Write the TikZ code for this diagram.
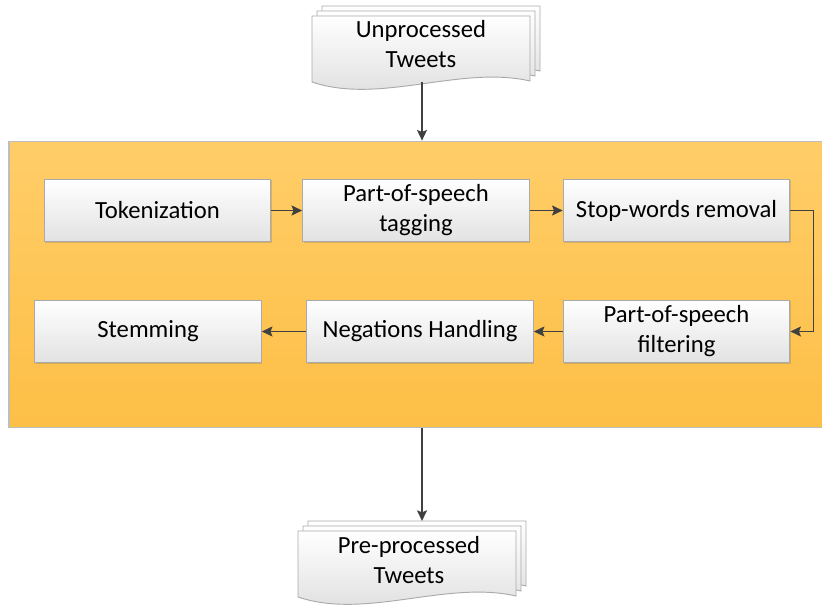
\documentclass[tikz,border=0pt]{standalone}
\usepackage{fontspec}
\setmainfont{Carlito}
\usetikzlibrary{arrows.meta,shadows}

\definecolor{panelTop}{RGB}{255,205,104}
\definecolor{panelBot}{RGB}{253,191,70}
\definecolor{panelEdge}{RGB}{190,190,190}
\definecolor{boxEdge}{RGB}{170,170,170}
\definecolor{boxBot}{RGB}{226,226,226}
\definecolor{lineDark}{RGB}{64,64,64}
\definecolor{pageBot}{RGB}{220,220,220}

\tikzset{
  x=0.75pt, y=-0.75pt,
  panel/.style={draw=panelEdge, line width=0.8pt, top color=panelTop, bottom color=panelBot,
    minimum width=615pt, minimum height=215pt, inner sep=0pt},
  stepbox/.style={draw=boxEdge, line width=0.7pt, top color=white, bottom color=boxBot,
    minimum width=170pt, minimum height=47pt, inner sep=2pt, align=center,
    font=\fontsize{18.5}{22.5}\selectfont,
    drop shadow={shadow xshift=0.8pt, shadow yshift=-0.8pt, opacity=0.25, fill=black!60}},
  pagesheet/.style={draw=boxEdge, line width=0.7pt, top color=white, bottom color=pageBot},
  doctext/.style={align=center, inner sep=0pt, font=\fontsize{18.5}{22.5}\selectfont},
  conn/.style={draw=lineDark, line width=1.1pt,
    -{Stealth[length=8pt,width=7.5pt,inset=1.5pt]}}
}

% one sheet of a stacked document, drawn with its top-left corner at the origin
\newcommand{\docsheet}{%
  \path[pagesheet] (0,0) -- (218,0) -- (218,65)
    .. controls (148,49) and (68,89) .. (0,66) -- cycle;}
% three offset sheets with the front one at (#1,#2)
\newcommand{\docstack}[2]{%
  \begin{scope}[shift={(#1+10,#2-10)}]\docsheet\end{scope}
  \begin{scope}[shift={(#1+5,#2-5)}]\docsheet\end{scope}
  \begin{scope}[shift={(#1,#2)}]\docsheet\end{scope}}

\begin{document}
\begin{tikzpicture}
\useasboundingbox (0,0) rectangle (822,606);
\clip (0,0) rectangle (822,606);

% source document stack
\docstack{312}{16}
\node[doctext] (src) at (421,44) {Unprocessed\\Tweets};
\coordinate (srcb) at (422,82);

% processing panel (runs off the right edge)
\node[panel] (panel) at (419,284.5) {};

% target document stack
\docstack{298}{531}
\node[doctext] (dst) at (409,560) {Pre-processed\\Tweets};
\coordinate (dstt) at (422,521);

% processing steps
\node[stepbox] (tok)  at (157.5,210.5) {Tokenization};
\node[stepbox] (tag)  at (416,210.5)   {Part-of-speech\\tagging};
\node[stepbox] (stop) at (676.5,210.5) {Stop-words removal};
\node[stepbox] (filt) at (676.5,331.5) {Part-of-speech\\filtering};
\node[stepbox] (neg)  at (420,331.5)   {Negations Handling};
\node[stepbox] (stem) at (148,331.5)   {Stemming};

% connectors
\draw[conn] (srcb) -- (srcb |- panel.north);
\draw[conn] (tok) -- (tag);
\draw[conn] (tag) -- (stop);
\draw[conn] (stop.east) -- ++(23,0) |- (filt.east);
\draw[conn] (filt) -- (neg);
\draw[conn] (neg) -- (stem);
\draw[conn] (srcb |- panel.south) -- (dstt);
\end{tikzpicture}
\end{document}
